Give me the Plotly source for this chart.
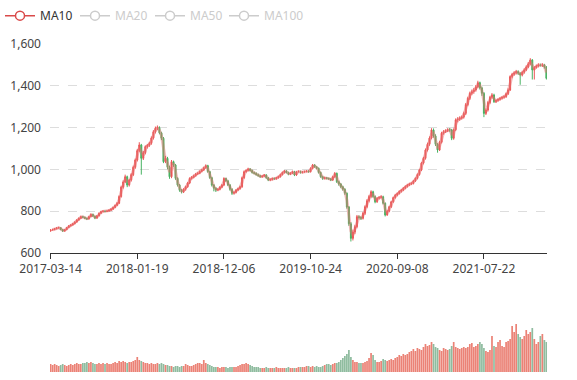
import plotly.graph_objects as go

# ---------------- data (weekly) ----------------
tick_labels = ["2017-03-14", "2018-01-19", "2018-12-06", "2019-10-24", "2020-09-08", "2021-07-22"]
tick_index = [0, 43, 86, 129, 172, 215]

first_open = 705
close = [
    710, 712, 716, 720, 721, 712, 705, 712, 722, 730,
    734, 740, 748, 758, 766, 774, 771, 766, 763, 774,
    785, 776, 767, 778, 790, 798, 800, 799, 801, 805,
    810, 818, 828, 838, 870, 915, 940, 965, 925, 949,
    975, 1010, 1045, 1090, 1117, 1053, 1080, 1109, 1115, 1125,
    1150, 1180, 1197, 1200, 1175, 1149, 1037, 1053, 1010, 965,
    1037, 1021, 957, 925, 900, 893, 905, 917, 935, 957,
    962, 970, 978, 981, 990, 997, 1008, 1018, 989, 960,
    925, 910, 901, 905, 915, 925, 957, 945, 925, 905,
    886, 890, 901, 908, 917, 960, 989, 995, 1002, 995,
    985, 981, 975, 970, 965, 968, 973, 960, 949, 952,
    957, 955, 960, 965, 975, 985, 992, 985, 977, 982,
    989, 973, 989, 990, 985, 988, 990, 992, 989, 1005,
    1021, 1012, 1005, 985, 965, 957, 960, 957, 955, 949,
    965, 981, 941, 930, 917, 905, 886, 820, 740, 670,
    700, 726, 774, 770, 766, 790, 821, 850, 870, 893,
    870, 845, 862, 866, 869, 838, 782, 800, 821, 845,
    865, 877, 885, 895, 901, 910, 918, 925, 930, 933,
    945, 957, 975, 997, 1030, 1053, 1093, 1120, 1150, 1189,
    1160, 1120, 1093, 1130, 1173, 1180, 1185, 1190, 1189, 1149,
    1190, 1237, 1240, 1245, 1250, 1268, 1310, 1340, 1364, 1372,
    1380, 1395, 1415, 1390, 1364, 1268, 1284, 1320, 1345, 1356,
    1324, 1330, 1335, 1340, 1345, 1348, 1362, 1380, 1444, 1455,
    1462, 1468, 1460, 1452, 1465, 1476, 1490, 1505, 1523, 1476,
    1488, 1495, 1500, 1498, 1500, 1490, 1436,
]
high = [
    714, 716, 719, 724, 726, 723, 714, 715, 725, 734,
    738, 744, 752, 762, 770, 779, 778, 774, 769, 778,
    790, 788, 779, 782, 794, 802, 805, 804, 805, 809,
    814, 822, 832, 844, 876, 922, 948, 975, 970, 955,
    982, 1018, 1052, 1098, 1130, 1122, 1088, 1115, 1122, 1132,
    1158, 1188, 1205, 1210, 1206, 1180, 1155, 1065, 1060, 1018,
    1045, 1042, 1026, 962, 930, 906, 910, 922, 940, 962,
    968, 975, 983, 987, 995, 1002, 1013, 1024, 1022, 993,
    965, 930, 915, 910, 920, 930, 962, 960, 950, 930,
    910, 896, 906, 913, 922, 966, 995, 1000, 1008, 1006,
    999, 990, 986, 980, 974, 972, 978, 977, 964, 957,
    961, 961, 964, 970, 980, 990, 997, 996, 989, 986,
    994, 993, 993, 995, 994, 992, 994, 996, 996, 1010,
    1026, 1025, 1016, 1009, 990, 970, 965, 964, 961, 958,
    970, 987, 985, 947, 935, 922, 910, 890, 825, 748,
    712, 735, 782, 780, 776, 796, 828, 858, 878, 900,
    898, 876, 868, 872, 876, 874, 842, 806, 826, 850,
    870, 883, 890, 900, 907, 916, 924, 931, 936, 939,
    950, 962, 981, 1003, 1036, 1060, 1100, 1128, 1158, 1197,
    1196, 1168, 1126, 1137, 1180, 1188, 1192, 1197, 1198, 1194,
    1196, 1244, 1250, 1254, 1258, 1276, 1318, 1348, 1372, 1382,
    1390, 1404, 1424, 1420, 1396, 1370, 1292, 1328, 1352, 1365,
    1362, 1336, 1340, 1346, 1350, 1355, 1368, 1388, 1450, 1462,
    1470, 1476, 1474, 1465, 1472, 1484, 1498, 1514, 1532, 1528,
    1494, 1502, 1508, 1506, 1508, 1505, 1494,
]
low = [
    702, 707, 709, 713, 717, 709, 701, 702, 709, 719,
    726, 731, 737, 745, 754, 763, 767, 762, 758, 760,
    771, 773, 762, 764, 775, 787, 795, 795, 796, 798,
    801, 806, 814, 824, 834, 865, 908, 935, 915, 918,
    942, 968, 1003, 1038, 1082, 975, 1045, 1072, 1100, 1108,
    1118, 1143, 1172, 1188, 1168, 1140, 1030, 1030, 1000, 955,
    958, 1012, 950, 918, 893, 885, 887, 898, 912, 930,
    951, 957, 965, 973, 977, 985, 992, 1003, 984, 955,
    918, 895, 892, 896, 900, 910, 920, 940, 920, 898,
    878, 880, 885, 896, 903, 912, 955, 984, 990, 990,
    980, 976, 970, 965, 960, 960, 963, 955, 944, 944,
    947, 950, 951, 956, 961, 971, 980, 981, 972, 973,
    978, 968, 969, 985, 980, 981, 984, 986, 984, 985,
    1000, 1008, 1000, 980, 960, 950, 952, 952, 950, 944,
    945, 960, 935, 922, 910, 898, 878, 812, 730, 655,
    660, 690, 718, 760, 758, 760, 782, 814, 842, 862,
    864, 838, 840, 856, 860, 832, 775, 778, 795, 815,
    840, 860, 871, 880, 889, 896, 905, 913, 920, 925,
    928, 940, 952, 970, 992, 1024, 1047, 1086, 1113, 1144,
    1152, 1112, 1080, 1088, 1124, 1166, 1174, 1179, 1180, 1140,
    1142, 1183, 1225, 1232, 1238, 1243, 1260, 1302, 1332, 1355,
    1362, 1372, 1388, 1382, 1352, 1250, 1260, 1277, 1312, 1338,
    1318, 1318, 1324, 1329, 1334, 1338, 1342, 1356, 1375, 1436,
    1448, 1454, 1452, 1405, 1445, 1458, 1470, 1484, 1498, 1430,
    1430, 1482, 1488, 1492, 1490, 1482, 1430,
]
volume = [
    8, 7, 8, 7, 6, 7, 8, 7, 6, 7,
    8, 7, 8, 9, 8, 8, 9, 9, 10, 9,
    10, 9, 8, 8, 9, 8, 9, 8, 9, 8,
    8, 9, 10, 9, 11, 10, 11, 10, 9, 10,
    10, 11, 12, 15, 12, 11, 10, 9, 9, 8,
    9, 8, 8, 9, 8, 9, 8, 7, 7, 6,
    6, 5, 6, 6, 5, 6, 6, 8, 7, 6,
    6, 7, 8, 9, 9, 8, 12, 9, 8, 7,
    6, 5, 5, 5, 4, 5, 5, 5, 4, 5,
    5, 5, 5, 6, 7, 8, 8, 9, 8, 7,
    6, 5, 5, 5, 4, 4, 4, 5, 4, 4,
    4, 4, 5, 4, 4, 4, 4, 4, 5, 4,
    4, 4, 4, 5, 5, 5, 5, 6, 6, 5,
    6, 5, 6, 5, 5, 6, 7, 8, 8, 7,
    8, 9, 9, 10, 12, 14, 16, 18, 22, 15,
    12, 10, 10, 9, 9, 9, 10, 11, 14, 19,
    17, 12, 10, 10, 11, 13, 12, 11, 12, 13,
    12, 14, 15, 17, 16, 18, 17, 18, 20, 21,
    23, 21, 24, 23, 22, 25, 28, 26, 27, 30,
    28, 25, 24, 22, 21, 24, 23, 22, 23, 26,
    30, 25, 24, 23, 24, 25, 24, 25, 28, 29,
    25, 26, 28, 30, 28, 24, 21, 20, 22, 36,
    26, 25, 30, 32, 26, 25, 30, 31, 33, 46,
    40, 48, 38, 35, 33, 36, 42, 38, 40, 44,
    33, 28, 30, 36, 38, 32, 30,
]
legend_names = ["MA10", "MA20", "MA50", "MA100"]

# ---------------- derived ----------------
n = len(close)
idx = list(range(n))
open_ = [first_open] + close[:-1]
up_col = "#eb5454"
down_col = "#47b262"
vol_colors = ["rgba(228,88,72,0.75)" if c >= o else "rgba(96,160,118,0.7)" for o, c in zip(open_, close)]

ma = []
for i in range(n):
    if i < 1:
        ma.append(None)
    else:
        ma.append(sum(close[i - 1:i + 1]) / 2)

FONT = "Noto Sans, Open Sans, sans-serif"

fig = go.Figure()
fig.add_trace(go.Candlestick(
    x=idx, open=open_, high=high, low=low, close=close,
    increasing=dict(line=dict(color=up_col, width=1), fillcolor=up_col),
    decreasing=dict(line=dict(color=down_col, width=1), fillcolor=down_col),
    whiskerwidth=0, showlegend=False, xaxis="x", yaxis="y",
))
fig.add_trace(go.Scatter(
    x=idx, y=ma, mode="lines", line=dict(color="rgba(230,110,110,0.45)", width=3),
    showlegend=False, hoverinfo="skip", xaxis="x", yaxis="y",
))
fig.add_trace(go.Bar(
    x=idx, y=volume, marker=dict(color=vol_colors, line=dict(width=0)),
    showlegend=False, xaxis="x2", yaxis="y2",
))

# legend entries
leg_colors = ["#d94a4a", "#cccccc", "#cccccc", "#cccccc"]
leg_refs = ["legend", "legend", "legend", "legend2"]
for name, col, lref in zip(legend_names, leg_colors, leg_refs):
    txt_col = "#333333" if col != "#cccccc" else "#cccccc"
    fig.add_trace(go.Scatter(
        x=[None], y=[None], mode="lines+markers",
        name=f'<span style="color:{txt_col}">{name}</span>',
        line=dict(color=col, width=1.5),
        marker=dict(symbol="circle", size=9, color="white", line=dict(color=col, width=1.5)),
        xaxis="x", yaxis="y", legend=lref,
    ))

leg_common = dict(orientation="h", xref="container", yref="container", y=0.997,
                  xanchor="left", yanchor="top", font=dict(size=12),
                  bgcolor="rgba(0,0,0,0)", itemclick=False)

fig.update_layout(
    width=577, height=380,
    margin=dict(l=50, r=30, t=44, b=8, autoexpand=False),
    paper_bgcolor="white", plot_bgcolor="white",
    font=dict(family=FONT, size=12, color="#444"),
    showlegend=True,
    legend=dict(x=0.0, entrywidth=30, entrywidthmode="pixels", **leg_common),
    legend2=dict(x=224 / 577, **leg_common),
    bargap=0.15,
    xaxis=dict(domain=[0, 1], range=[-0.3, 246.3], tickmode="array", tickvals=tick_index,
               ticktext=tick_labels, showgrid=False, zeroline=False, showline=True,
               linecolor="#333", linewidth=1, ticks="outside", ticklen=5, tickcolor="#333",
               anchor="y", automargin=False, rangeslider=dict(visible=False),
               tickfont=dict(size=12, color="#444")),
    yaxis=dict(domain=[0.3628, 1], range=[600, 1600], tickvals=[600, 800, 1000, 1200, 1400, 1600],
               tickformat=",", showgrid=True, gridcolor="#dddddd", griddash="dash",
               zeroline=False, showline=False, ticks="", ticklabelstandoff=8, automargin=False,
               tickfont=dict(size=12, color="#444")),
    xaxis2=dict(domain=[0, 1], range=[-0.3, 246.3], showticklabels=False, showgrid=False,
                zeroline=False, showline=False, ticks="", anchor="y2", automargin=False,
                rangeslider=dict(visible=False)),
    yaxis2=dict(domain=[0, 0.1829], range=[0, 60], showticklabels=False, showgrid=False,
                zeroline=False, showline=False, ticks="", automargin=False),
)

fig.write_html("out.html", config={"displayModeBar": False},
               post_script="document.body.style.margin='0';")
